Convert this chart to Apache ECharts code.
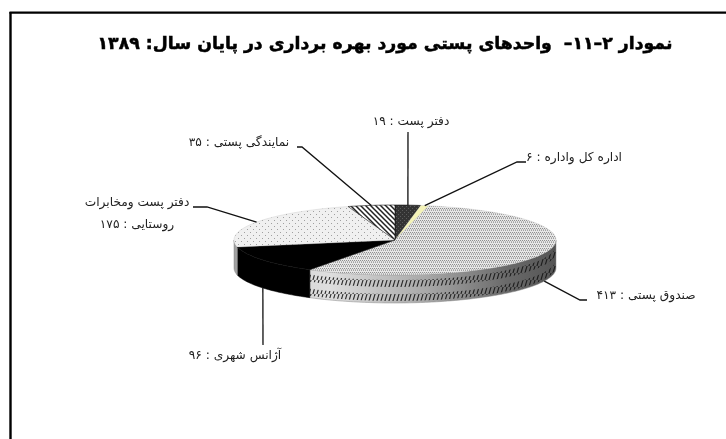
<!DOCTYPE html>
<html dir="rtl" lang="fa"><head><meta charset="utf-8">
<style>html,body{margin:0;padding:0;background:#fff}#c{width:726px;height:439px}</style>
<script src="https://cdn.jsdelivr.net/npm/echarts@6/dist/echarts.min.js"></script>
</head><body><div id="c"></div>
<script>
// --- data (clockwise from 12 o'clock)
const names = ['دفتر پست', 'اداره کل واداره', 'صندوق پستی', 'آژانس شهری', 'دفتر پست ومخابرات\nروستایی', 'نمایندگی پستی'];
const valueLabels = ['۱۹', '۶', '۴۱۳', '۹۶', '۱۷۵', '۳۵'];
const values = [19, 6, 413, 96, 175, 35];
const titleText = 'نمودار ۲–۱۱–  واحدهای پستی مورد بهره برداری در پایان سال: ۱۳۸۹';

// --- layout, separate from the data
const CX = 395, CY = 240, RX = 161, RY = 35, DEPTH = 28;
const labelPos = [[411,122],[574,158],[646,296],[235,356],[137,214],[239,143]];
const elbows = [
  [[408,132]],
  [[517,162],[526,162]],
  [[580,300],[587,300]],
  [[263,345]],
  [[207,207],[193,207]],
  [[302,147],[297,147]]
];
const startsOnWall = [false,false,true,true,false,false];

function tile(w,h,draw){const c=document.createElement('canvas');c.width=w;c.height=h;draw(c.getContext('2d'));return {image:c,repeat:'repeat'};}
const fills = [
  tile(4,4,g=>{g.fillStyle='#333';g.fillRect(0,0,4,4);g.fillStyle='#5a5a5a';g.fillRect(0,0,1,1);g.fillRect(2,2,1,1);}),
  '#f4f3b8',
  tile(4,4,g=>{g.fillStyle='#e6e6e6';g.fillRect(0,0,4,4);g.fillStyle='#8e8e8e';g.fillRect(0,0,1,1);g.fillRect(2,0,1,1);g.fillStyle='#b4b4b4';g.fillRect(1,1,1,1);g.fillRect(3,1,1,1);g.fillStyle='#a0a0a0';g.fillRect(1,2,1,1);g.fillRect(3,2,1,1);}),
  '#000',
  tile(6,6,g=>{g.fillStyle='#f0f0f0';g.fillRect(0,0,6,6);g.fillStyle='#a0a0a0';g.fillRect(1,1,1,1);g.fillRect(4,4,1,1);}),
  tile(5,5,g=>{g.fillStyle='#fff';g.fillRect(0,0,5,5);g.strokeStyle='#222';g.lineWidth=1.5;g.beginPath();g.moveTo(-1,-1);g.lineTo(6,6);g.moveTo(-1,4);g.lineTo(1,6);g.moveTo(4,-1);g.lineTo(6,1);g.stroke();})
];
const hatch = tile(4,7,g=>{g.strokeStyle='rgba(20,20,20,0.9)';g.lineWidth=1.1;g.beginPath();g.moveTo(3.2,-0.5);g.lineTo(0.8,7.5);g.stroke();});

const total = values.reduce((a,b)=>a+b,0);
const angles = []; let run = 0;
values.forEach(v=>{const a=run/total*360; run+=v; angles.push([a,run/total*360]);});

function pt(deg,dy){const r=deg*Math.PI/180;return [CX+RX*Math.sin(r),CY-RY*Math.cos(r)+(dy||0)];}
function arc(a,b,dy){const n=Math.max(2,Math.ceil(Math.abs(b-a)));const p=[];for(let i=0;i<=n;i++)p.push(pt(a+(b-a)*i/n,dy));return p;}
function band(a,b,d0,d1){return arc(a,b,d0).concat(arc(b,a,d1));}

const wallGradient = {type:'linear',x:233,y:0,x2:555,y2:0,global:true,colorStops:[
  {offset:0,color:'#9a9a9a'},{offset:0.06,color:'#cfcfcf'},{offset:0.3,color:'#dedede'},{offset:0.6,color:'#a8a8a8'},{offset:0.85,color:'#6a6a6a'},{offset:1,color:'#555'}]};

function renderWall(params){
  const i=params.dataIndex, a=Math.max(angles[i][0],90), b=Math.min(angles[i][1],270);
  if(b<=a) return {type:'group',children:[]};
  const isBlack=fills[i]==='#000';
  const children=[{type:'polygon',shape:{points:band(a,b,0,DEPTH)},style:{fill:isBlack?'#000':wallGradient,stroke:isBlack?'#000':'#8a8a8a',lineWidth:0.5}}];
  if(i===2){
    children.push({type:'polygon',shape:{points:band(a,b,5,12)},style:{fill:hatch}});
    children.push({type:'polygon',shape:{points:band(a,b,19,26)},style:{fill:hatch}});
  }
  return {type:'group',children};
}
function renderTop(params){
  const i=params.dataIndex,[a,b]=angles[i];
  const dark=i===0||i===3||i===5;
  return {type:'polygon',shape:{points:[[CX,CY]].concat(arc(a,b,0))},style:{fill:fills[i],stroke:dark?'#111':'#b8b8b8',lineWidth:dark?0.6:0.3}};
}
function renderLabel(params){
  const i=params.dataIndex,mid=(angles[i][0]+angles[i][1])/2;
  const start=pt(mid,startsOnWall[i]?DEPTH:0);
  const lines=(names[i]+' : '+valueLabels[i]).split('\n');
  const [lx,ly]=labelPos[i];
  const children=[{type:'polyline',shape:{points:[start].concat(elbows[i])},style:{fill:'none',stroke:'#111',lineWidth:1.3}}];
  lines.forEach((t,k)=>{
    children.push({type:'text',style:{text:t,x:lx,y:ly+(k-(lines.length-1)/2)*22,align:'center',verticalAlign:'middle',
      font:'12.2px "DejaVu Sans"',fill:'#222'}});
  });
  return {type:'group',children};
}
const chart=echarts.init(document.getElementById('c'),null,{renderer:'canvas'});
const seriesData=values.map((v,i)=>({name:names[i],value:v}));
chart.setOption({
  animation:false,
  backgroundColor:'#fff',
  title:{text:titleText,left:380,top:31,textAlign:'center',textStyle:{fontFamily:'"DejaVu Sans"',fontWeight:'bold',fontSize:17.3,color:'#000',textBorderColor:'#000',textBorderWidth:0.5}},
  tooltip:{show:false},
  graphic:[
    {type:'line',shape:{x1:10.5,y1:12,x2:10.5,y2:439},style:{stroke:'#000',lineWidth:2.4},silent:true},
    {type:'line',shape:{x1:9.5,y1:12.7,x2:726,y2:12.7},style:{stroke:'#000',lineWidth:2.2},silent:true}
  ],
  series:[
    {type:'custom',coordinateSystem:'none',renderItem:renderWall,data:seriesData,z:1,silent:true},
    {type:'custom',coordinateSystem:'none',renderItem:renderTop,data:seriesData,z:2,silent:true},
    {type:'custom',coordinateSystem:'none',renderItem:renderLabel,data:seriesData,z:3,silent:true}
  ]
});
</script></body></html>
